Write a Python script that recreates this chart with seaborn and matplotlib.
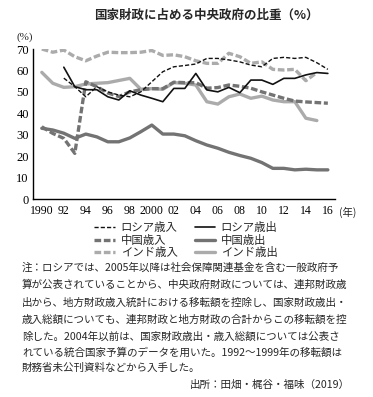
import numpy as np
import pandas as pd
import matplotlib
matplotlib.use("Agg")
import matplotlib.pyplot as plt
import seaborn as sns
from matplotlib.lines import Line2D

nan = np.nan
years = list(range(1990, 2017))
russia_rev = [nan, nan, 56.4, 52.4, 47.7, 52.4, 50.0, 48.5, 47.7, 50.0, 54.7, 59.4, 61.7, 62.3,
              63.0, 65.6, 65.6, 64.9, 64.0, 62.5, 61.7, 65.6, 66.1, 65.6, 66.1, 63.6, 60.5]
russia_exp = [nan, nan, 61.5, 52.4, 51.0, 51.0, 47.7, 46.2, 50.5, 48.5, 47.0, 45.4, 51.6, 51.6,
              58.6, 50.9, 50.0, 52.1, 49.6, 55.5, 55.5, 53.5, 56.3, 56.3, 57.9, 59.0, 58.6]
china_rev = [33.7, 30.6, 28.3, 21.3, 54.7, 52.4, 49.5, 47.8, 50.0, 51.0, 51.5, 51.5, 54.5, 54.3,
             54.3, 51.7, 52.0, 53.2, 52.6, 51.7, 50.0, 48.5, 47.0, 45.7, 45.3, 45.0, 44.7]
china_exp = [33.0, 32.2, 30.7, 28.3, 30.3, 29.0, 26.7, 26.7, 28.5, 31.4, 34.5, 30.3, 30.3, 29.5,
             27.2, 25.2, 23.7, 21.8, 20.3, 19.0, 17.0, 14.3, 14.3, 13.6, 13.9, 13.6, 13.6]
india_rev = [70.0, 68.5, 69.5, 66.4, 64.5, 66.7, 68.5, 68.3, 68.3, 68.5, 69.3, 67.0, 67.3, 66.4,
             64.5, 63.3, 63.3, 68.0, 66.4, 63.3, 64.0, 60.5, 60.2, 60.5, 55.2, 59.0, nan]
india_exp = [59.1, 54.0, 52.1, 52.4, 53.7, 54.0, 54.3, 55.3, 56.3, 51.2, 51.5, 51.2, 54.3, 54.0,
             53.2, 45.4, 44.3, 47.7, 49.0, 47.0, 48.0, 46.2, 45.4, 45.4, 37.7, 36.6, nan]

labels = ["ロシア歳入", "ロシア歳出", "中国歳入", "中国歳出", "インド歳入", "インド歳出"]
series = [russia_rev, russia_exp, china_rev, china_exp, india_rev, india_exp]
xtick_labels = ["1990", "92", "94", "96", "98", "2000", "02", "04", "06", "08", "10", "12", "14", "16"]

styles = {
    "ロシア歳入": dict(color="#111111", ls=(0, (3.0, 1.5)), lw=1.0),
    "ロシア歳出": dict(color="#111111", ls="-", lw=1.2),
    "中国歳入": dict(color="#737373", ls=(0, (2.0, 0.8)), lw=2.4),
    "中国歳出": dict(color="#737373", ls="-", lw=2.4),
    "インド歳入": dict(color="#ababab", ls=(0, (2.0, 0.8)), lw=2.4),
    "インド歳出": dict(color="#ababab", ls="-", lw=2.4),
}

sns.set_theme(style="white")
jp = ["Noto Sans CJK JP", "DejaVu Sans"]
plt.rcParams["font.family"] = jp

fig = plt.figure(figsize=(3.73, 3.97), dpi=100)
ax = fig.add_axes([33/373, 1-199/397, (335-33)/373, (199-49)/397])

order = ["インド歳出", "インド歳入", "中国歳出", "中国歳入", "ロシア歳出", "ロシア歳入"]
for name in order:
    vals = series[labels.index(name)]
    df = pd.DataFrame({"year": years, "val": vals}).dropna()
    st = styles[name]
    sns.lineplot(data=df, x="year", y="val", ax=ax, color=st["color"],
                 linestyle=st["ls"], linewidth=st["lw"], legend=False)

ax.set_xlim(1989.2, 2016.65)
ax.set_ylim(0, 70)
ax.set_xlabel("")
ax.set_ylabel("")
for s in ["top", "right"]:
    ax.spines[s].set_visible(False)
for s in ["left", "bottom"]:
    ax.spines[s].set_color("black")
    ax.spines[s].set_linewidth(1.0)

ax.set_xticks(years)
ax.set_xticklabels([xtick_labels[i // 2] if i % 2 == 0 else "" for i in range(len(years))],
                   family="Liberation Serif", fontsize=8.5)
ax.set_yticks(range(0, 71, 10))
ax.set_yticklabels([str(v) for v in range(0, 71, 10)], family="Liberation Serif", fontsize=9)
ax.tick_params(axis="both", direction="in", length=4, width=0.9, colors="black", pad=3)
ax.tick_params(axis="x", pad=4)

fig.text(25/373, 1-37/397, "(%)", family="Liberation Serif", fontsize=8, ha="center", va="center")
fig.text(348/373, 1-212/397, "(年)", family=jp, fontsize=7.5, ha="center", va="center")

fig.text(206/373, 1-15/397, "国家財政に占める中央政府の比重（%）", family=jp, fontsize=9,
         fontweight="bold", ha="center", va="center")

handles = []
for name in ["ロシア歳入", "中国歳入", "インド歳入", "ロシア歳出", "中国歳出", "インド歳出"]:
    st = styles[name]
    handles.append(Line2D([], [], color=st["color"], linestyle=st["ls"], linewidth=st["lw"]))
fig.legend(handles, ["ロシア歳入", "中国歳入", "インド歳入", "ロシア歳出", "中国歳出", "インド歳出"],
           ncol=2, loc="center", bbox_to_anchor=(186/373, 1-240/397), frameon=False,
           fontsize=8.2, handlelength=1.8, handletextpad=0.5, columnspacing=1.5,
           labelspacing=0.12, borderpad=0)

note = [
    "注：ロシアでは、2005年以降は社会保障関連基金を含む一般政府予",
    "算が公表されていることから、中央政府財政については、連邦財政歳",
    "出から、地方財政歳入統計における移転額を控除し、国家財政歳出・",
    "歳入総額についても、連邦財政と地方財政の合計からこの移転額を控",
    "除した。2004年以前は、国家財政歳出・歳入総額については公表さ",
    "れている統合国家予算のデータを用いた。1992～1999年の移転額は",
    "財務省未公刊資料などから入手した。",
]
ys = [268, 285, 303, 320, 337, 353, 368]
for line, yy in zip(note, ys):
    fig.text(22/373, 1-yy/397, line, family=jp, fontsize=7.6, ha="left", va="center")
fig.text(350/373, 1-385/397, "出所：田畑・梶谷・福味（2019）", family=jp, fontsize=7.6,
         ha="right", va="center")

fig.savefig("out.png", dpi=100)
